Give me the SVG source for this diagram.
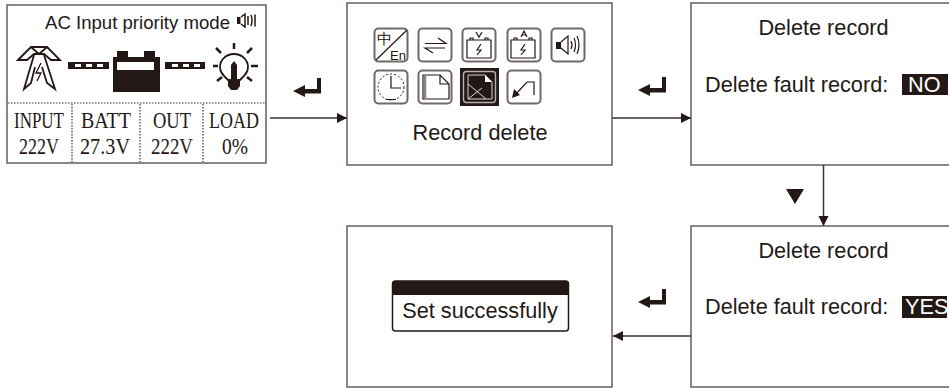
<svg xmlns="http://www.w3.org/2000/svg" width="949" height="388" viewBox="0 0 949 388">
<style>
text{font-family:"Liberation Sans",Arial,sans-serif;fill:#231815}
.p{fill:#fff;stroke:#5a5350;stroke-width:1.4}
.t{font-size:21.7px}
.w{fill:#fff}
.lcd{font-family:"Liberation Serif","DejaVu Serif",serif;font-size:23.5px;text-anchor:middle}
.c{fill:none;stroke:#3a3330;stroke-width:1.5}
.i{fill:none;stroke:#6f6a68;stroke-width:2}
.k{fill:none;stroke:#231815;stroke-width:1.200}
.d{fill:none;stroke:#3a3330;stroke-width:1.2;stroke-dasharray:1.5 1.5}
.f{fill:#231815}
</style>
<defs>
<marker id="a" viewBox="0 0 10 10" refX="10" refY="5" markerWidth="10" markerHeight="12" markerUnits="userSpaceOnUse" orient="auto"><path d="M0 0L10 5L0 10Z" fill="#231815"/></marker>
<path id="enter" d="M0 13L12 7V11H24V0H28V15.500H12V19Z" fill="#231815"/>
</defs>
<g id="node-status">
<rect class="p" x="7" y="5" width="259" height="158"/>
<text x="45" y="29" font-size="18.600">AC Input priority mode</text>
<g id="speaker-small"><path class="f" d="M237 17h3.500v7h-3.500z"/><path fill="none" stroke="#231815" stroke-width="1.500" d="M241 17l4-3v13l-4-3M248 16v9M251 15q2 5 0 11M255 14.500v12"/></g>
<g id="pylon" fill="none" stroke="#231815" stroke-width="1.800"><path d="M18 60L31 47H47L60 60H51L44 54H34L27 60Z"/><path d="M31 47L39 54L47 47M34 55L24 89L31 83L35 67M44 55L55 89L47 83L42 67"/><path d="M41 63L36 73H41L37 81" stroke-width="1.300"/></g>
<rect class="f" x="68" y="62" width="41" height="7"/><rect class="w" x="75" y="64" width="6" height="3"/><rect class="w" x="86" y="64" width="6" height="3"/><rect class="w" x="97" y="64" width="6" height="3"/>
<g id="battery"><rect class="f" x="113" y="57" width="47" height="35"/><rect class="f" x="117" y="51" width="11" height="7"/><rect class="f" x="144" y="51" width="11" height="7"/><rect class="w" x="117" y="62" width="37" height="8"/></g>
<rect class="f" x="165" y="62" width="40" height="7"/><rect class="w" x="172" y="64" width="6" height="3"/><rect class="w" x="183" y="64" width="6" height="3"/><rect class="w" x="194" y="64" width="6" height="3"/>
<g id="bulb" fill="none" stroke="#231815" stroke-width="1.800"><path d="M228 80C224 76 220 73 220 67C220 60 226 54 234 54C242 54 248 60 248 67C248 73 244 76 240 80Z"/><path class="f" stroke="none" d="M228 80h12v6l-3 4h-6l-3-4z"/><path class="f" stroke="none" d="M231 65l3-4l3 4v15h-6z"/><path stroke-width="2.500" d="M234 43v6M216 48l5 5M252 48l-5 5M213 66h5M251 66h7M217 81l5-4M252 81l-5-4"/></g>
<path class="d" d="M8 103H265M72 104V162M140 104V162M203 104V162"/>
<text class="lcd" x="39" y="128" textLength="50" lengthAdjust="spacingAndGlyphs">INPUT</text>
<text class="lcd" x="39" y="154" textLength="40" lengthAdjust="spacingAndGlyphs">222V</text>
<text class="lcd" x="106" y="128" textLength="50" lengthAdjust="spacingAndGlyphs">BATT</text>
<text class="lcd" x="105" y="154" textLength="50" lengthAdjust="spacingAndGlyphs">27.3V</text>
<text class="lcd" x="172" y="128" textLength="38" lengthAdjust="spacingAndGlyphs">OUT</text>
<text class="lcd" x="172" y="154" textLength="42" lengthAdjust="spacingAndGlyphs">222V</text>
<text class="lcd" x="234" y="128" textLength="50" lengthAdjust="spacingAndGlyphs">LOAD</text>
<text class="lcd" x="235" y="154" textLength="26" lengthAdjust="spacingAndGlyphs">0%</text>
</g>
<g id="node-menu">
<rect class="p" x="347" y="3" width="265" height="162"/>
<g id="ic1"><rect class="i" x="374.500" y="28.500" width="33" height="33" rx="4"/><path class="k" stroke-width="1.600" d="M376 60L407 30"/><text x="377" y="44" font-size="15" font-family="Noto Sans CJK SC,sans-serif">中</text><text x="390" y="60" font-size="13">En</text></g>
<g id="ic2"><rect class="i" x="418.500" y="28.500" width="33" height="33" rx="4"/><path class="k" stroke-width="2" d="M425 43.500H446L438 38M445 48H425L433 53"/></g>
<g id="ic3"><rect class="i" x="462.500" y="28.500" width="33" height="33" rx="4"/><path class="k" d="M467 40H491V58H467ZM470 40V38h3v2M485 40V38h3v2M476 32L479 37L482 32M481 44L477 50H481L477 55"/></g>
<g id="ic4"><rect class="i" x="507.500" y="28.500" width="33" height="33" rx="4"/><path class="k" d="M511 40H535V58H511ZM514 40V38h3v2M529 40V38h3v2M521 37L524 31L527 37M522 35H526M525 44L521 50H525L521 55"/></g>
<g id="ic5"><rect class="i" x="551.500" y="28.500" width="33" height="33" rx="4"/><path class="f" d="M556 42h5v7h-5z"/><path class="k" d="M561 42L568 36V54L561 48M571 41q2 4 0 8M574 38q3 7 0 14M577 36q4 9 0 18"/></g>
<g id="ic6"><rect class="i" x="374.500" y="70.500" width="33" height="33" rx="4"/><circle cx="391" cy="87" r="13" fill="none" stroke="#231815" stroke-width="1" stroke-dasharray="2 2"/><path class="k" stroke-width="2.200" d="M391 76V88H401M386 99.500H396"/></g>
<g id="ic7"><rect class="i" x="418.500" y="70.500" width="33" height="33" rx="4"/><path class="k" d="M423 75H440L449 84V99H423ZM440 75V84H449"/><path d="M425 76V98" stroke="#8a8583" stroke-width="2.500"/></g>
<g id="ic8"><rect class="f" x="460" y="68" width="39" height="38"/><rect x="463.500" y="71.500" width="32" height="31" rx="3" fill="none" stroke="#b5b1af" stroke-width="1.400"/><path d="M468 75H485L492 82V99H468Z" fill="none" stroke="#d8d6d5" stroke-width="1"/><path d="M485 75V82H492L485 75Z" fill="#fff"/><path d="M468 84L486 99M468 99L482 88" stroke="#d8d6d5" stroke-width="1" fill="none"/></g>
<g id="ic9"><rect class="i" x="507.500" y="70.500" width="33" height="33" rx="4"/><path class="k" stroke-width="2.400" d="M514 96L527 82H534V95"/><path class="f" d="M512 98L514 89L520 95Z"/></g>
<text class="t" x="480" y="140" text-anchor="middle">Record delete</text>
</g>
<g id="node-delete-no">
<rect class="p" x="691" y="3" width="260" height="162"/>
<text class="t" x="823.500" y="35" text-anchor="middle">Delete record</text>
<text class="t" x="705" y="92">Delete fault record:</text>
<rect class="f" x="902" y="74" width="46" height="21"/>
<text class="t" style="fill:#fff" x="908" y="92">NO</text>
</g>
<g id="node-delete-yes">
<rect class="p" x="691" y="226" width="260" height="161"/>
<text class="t" x="823.500" y="258" text-anchor="middle">Delete record</text>
<text class="t" x="705" y="314">Delete fault record:</text>
<rect class="f" x="902" y="296" width="45" height="22"/>
<text class="t" style="fill:#fff" x="905" y="314">YES</text>
</g>
<g id="node-success">
<rect class="p" x="347" y="226" width="265" height="161"/>
<rect x="392.500" y="281" width="176" height="50" rx="3" fill="#fff" stroke="#231815" stroke-width="1.500"/>
<path class="f" d="M392 295V284a3 3 0 0 1 3-3H566a3 3 0 0 1 3 3V295Z"/>
<text class="t" x="480" y="318" text-anchor="middle">Set successfully</text>
</g>
<g id="connectors">
<path class="c" d="M270 118H347" marker-end="url(#a)"/>
<path class="c" d="M612 118H691" marker-end="url(#a)"/>
<path class="c" d="M823.500 165V226" marker-end="url(#a)"/>
<path class="c" d="M691 336H613" marker-end="url(#a)"/>
</g>
<g id="key-icons">
<use href="#enter" x="293" y="78"/>
<use href="#enter" x="638" y="77"/>
<use href="#enter" x="638" y="289"/>
<path class="f" d="M786 189H804L795 204Z"/>
</g>
</svg>
